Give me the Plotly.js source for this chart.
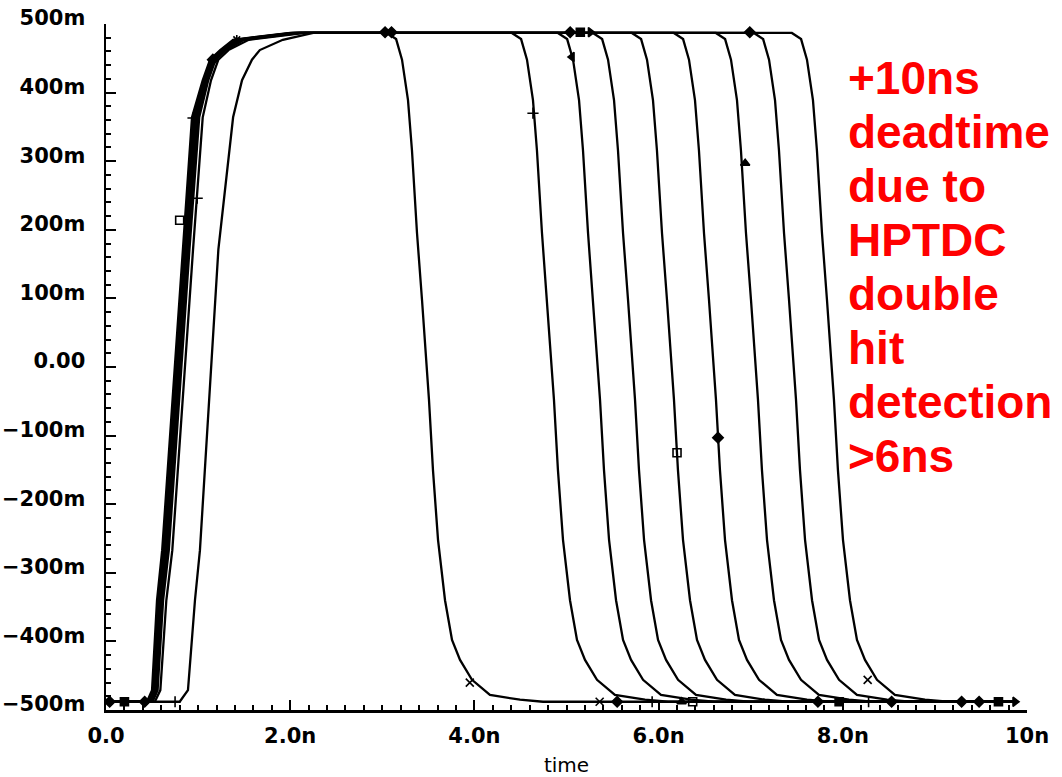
<!DOCTYPE html>
<html>
<head>
<meta charset="utf-8">
<script src="https://cdn.plot.ly/plotly-3.0.1.min.js"></script>
<style>html,body{margin:0;padding:0;background:#fff;}#chart{width:1062px;height:777px;}</style>
</head>
<body>
<div id="chart"></div>
<script>
// ---- data (time in ns, voltage in mV) ----
const riseLevels = [-488, -471, -340, -267, -48, 171, 364, 418, 448, 462, 477, 487];
const fallLevels = [487, 478, 448, 389, 316, 195, 98, -48, -150, -252, -340, -398, -427, -456, -478, -485, -488];
const startTime = 0.0;
const endTime = 9.9;
const lowLevel = -488;

const riseTimes = [
  [0.80, 0.89, 0.966, 1.02, 1.12, 1.22, 1.38, 1.477, 1.585, 1.67, 1.92, 2.25],
  [0.445, 0.50, 0.554, 0.61, 0.72, 0.83, 0.934, 1.05, 1.13, 1.24, 1.38, 2.00],
  [0.455, 0.51, 0.565, 0.62, 0.73, 0.84, 0.945, 1.06, 1.14, 1.25, 1.40, 2.02],
  [0.465, 0.52, 0.575, 0.632, 0.742, 0.852, 0.958, 1.07, 1.15, 1.26, 1.42, 2.04],
  [0.475, 0.53, 0.587, 0.645, 0.755, 0.866, 0.972, 1.08, 1.16, 1.27, 1.44, 2.06],
  [0.485, 0.54, 0.598, 0.657, 0.768, 0.88, 0.985, 1.09, 1.17, 1.28, 1.46, 2.08],
  [0.495, 0.55, 0.61, 0.67, 0.78, 0.893, 1.00, 1.10, 1.18, 1.29, 1.48, 2.10],
  [0.505, 0.56, 0.62, 0.682, 0.792, 0.906, 1.012, 1.11, 1.19, 1.30, 1.50, 2.12],
  [0.53, 0.59, 0.655, 0.72, 0.83, 0.945, 1.05, 1.14, 1.22, 1.33, 1.55, 2.16]
];
const fallTimes = [
  [3.05, 3.15, 3.214, 3.279, 3.322, 3.377, 3.431, 3.507, 3.55, 3.605, 3.681, 3.757, 3.844, 3.974, 4.169, 4.495, 4.745],
  [4.407, 4.507, 4.571, 4.636, 4.679, 4.734, 4.788, 4.864, 4.907, 4.962, 5.038, 5.114, 5.201, 5.331, 5.526, 5.852, 6.102],
  [4.907, 5.007, 5.071, 5.136, 5.179, 5.234, 5.288, 5.364, 5.407, 5.462, 5.538, 5.614, 5.701, 5.831, 6.026, 6.352, 6.602],
  [5.287, 5.387, 5.451, 5.516, 5.559, 5.614, 5.668, 5.744, 5.787, 5.842, 5.918, 5.994, 6.081, 6.211, 6.406, 6.732, 6.982],
  [5.71, 5.81, 5.874, 5.939, 5.982, 6.037, 6.091, 6.167, 6.21, 6.265, 6.341, 6.417, 6.504, 6.634, 6.829, 7.155, 7.405],
  [6.166, 6.266, 6.33, 6.395, 6.438, 6.493, 6.547, 6.623, 6.666, 6.721, 6.797, 6.873, 6.96, 7.09, 7.285, 7.611, 7.861],
  [6.622, 6.722, 6.786, 6.851, 6.894, 6.949, 7.003, 7.079, 7.122, 7.177, 7.253, 7.329, 7.416, 7.546, 7.741, 8.067, 8.317],
  [7.035, 7.135, 7.199, 7.264, 7.307, 7.362, 7.416, 7.492, 7.535, 7.59, 7.666, 7.742, 7.829, 7.959, 8.154, 8.48, 8.73],
  [7.447, 7.547, 7.611, 7.676, 7.719, 7.774, 7.828, 7.904, 7.947, 8.002, 8.078, 8.154, 8.241, 8.371, 8.566, 8.892, 9.142]
];

// curve markers
const markerT = [6.20, 6.645, 6.94, 4.636, 5.06, 3.95, 3.03, 3.10, 5.04, 5.15, 5.26, 6.99,
                 5.36, 5.55, 5.93, 6.25, 6.37, 7.73, 7.96, 8.28, 8.27, 8.53, 9.29, 9.48, 9.69, 9.87,
                 0.04, 0.20, 0.42, 0.75, 0.945, 0.99, 0.80, 1.16, 1.42];
const markerV = [-125, -103, 297, 370, 452, -460, 488, 488, 488, 488, 488, 488,
                 -488, -488, -488, -488, -488, -488, -488, -488, -456, -488, -488, -488, -488, -488,
                 -488, -488, -488, -488, 363, 246, 214, 448, 477];
const markerSymbol = ['square-open', 'diamond', 'triangle-up', 'cross-thin-open', 'triangle-left', 'x-thin-open',
                      'diamond', 'diamond', 'diamond', 'square', 'triangle-right', 'diamond',
                      'x-thin-open', 'diamond', 'cross-thin-open', 'triangle-up', 'square-open', 'diamond', 'square', 'cross-thin-open', 'x-thin-open', 'diamond', 'diamond', 'diamond', 'square', 'triangle-right',
                      'diamond', 'square', 'diamond', 'cross-thin-open', 'cross-thin-open', 'cross-thin-open', 'square-open', 'diamond', 'asterisk-open'];

const yTickVals = [-500, -400, -300, -200, -100, 0, 100, 200, 300, 400, 500];
const yTickText = ['\u2212500m', '\u2212400m', '\u2212300m', '\u2212200m', '\u2212100m', '0.00', '100m', '200m', '300m', '400m', '500m'];
const xTickVals = [0, 2, 4, 6, 8, 10];
const xTickText = ['0.0', '2.0n', '4.0n', '6.0n', '8.0n', '10n'];

const noteLines = ['+10ns', 'deadtime', 'due to', 'HPTDC', 'double', 'hit', 'detection', '>6ns'];

// ---- traces ----
const traces = [];
for (let i = 0; i < riseTimes.length; i++) {
  const x = [startTime].concat(riseTimes[i], fallTimes[i], [endTime]);
  const y = [lowLevel].concat(riseLevels, fallLevels, [lowLevel]);
  traces.push({
    type: 'scatter', mode: 'lines', x: x, y: y,
    line: {color: '#000', width: 2.3, shape: 'linear'},
    hoverinfo: 'skip'
  });
}
traces.push({
  type: 'scatter', mode: 'markers', x: markerT, y: markerV,
  marker: {symbol: markerSymbol, size: 8, color: '#000', line: {color: '#000', width: 1.6}},
  hoverinfo: 'skip'
});

// ---- layout ----
const L = 106, R = 1027, T = 24, B = 710, W = 1062, H = 777;
function pyToPaper(py) { return (B - py) / (B - T); }
function pxToPaper(px) { return (px - L) / (R - L); }

const tickFont = {family: 'DejaVu Sans', size: 21, color: '#000', weight: 'bold'};
const annotations = noteLines.map((txt, k) => ({
  xref: 'paper', yref: 'paper', x: pxToPaper(846), y: pyToPaper(78 + 54 * k),
  xanchor: 'left', yanchor: 'middle', showarrow: false, align: 'left',
  text: txt,
  font: {family: 'Liberation Sans, Arial, sans-serif', size: 46, color: '#ff0000', weight: 'bold'}
}));

const layout = {
  width: W, height: H,
  margin: {l: L, r: W - R, t: T, b: H - B, pad: 0},
  paper_bgcolor: '#fff', plot_bgcolor: '#fff',
  showlegend: false,
  xaxis: {
    range: [0, 10], showline: true, linecolor: '#000', linewidth: 2.5,
    showgrid: false, zeroline: false,
    tickmode: 'array', tickvals: xTickVals, ticktext: xTickText,
    ticks: 'inside', ticklen: 10, tickwidth: 2, tickcolor: '#000',
    tickfont: tickFont, ticklabelstandoff: 5,
    minor: {tickmode: 'linear', tick0: 0, dtick: 0.2, ticks: 'inside', ticklen: 5, tickwidth: 2, tickcolor: '#000', showgrid: false},
    title: {text: 'time', font: {family: 'DejaVu Sans', size: 20, color: '#000'}, standoff: 22}
  },
  yaxis: {
    range: [-500, 500], showline: true, linecolor: '#000', linewidth: 2.5,
    showgrid: false, zeroline: false,
    tickmode: 'array', tickvals: yTickVals, ticktext: yTickText,
    ticks: 'inside', ticklen: 10, tickwidth: 2, tickcolor: '#000',
    tickfont: tickFont, ticklabelstandoff: 14, ticklabelshift: -6,
    minor: {tickmode: 'linear', tick0: 0, dtick: 20, ticks: 'inside', ticklen: 5, tickwidth: 2, tickcolor: '#000', showgrid: false}
  },
  annotations: annotations
};

Plotly.newPlot('chart', traces, layout, {staticPlot: true, displayModeBar: false});
</script>
</body>
</html>
